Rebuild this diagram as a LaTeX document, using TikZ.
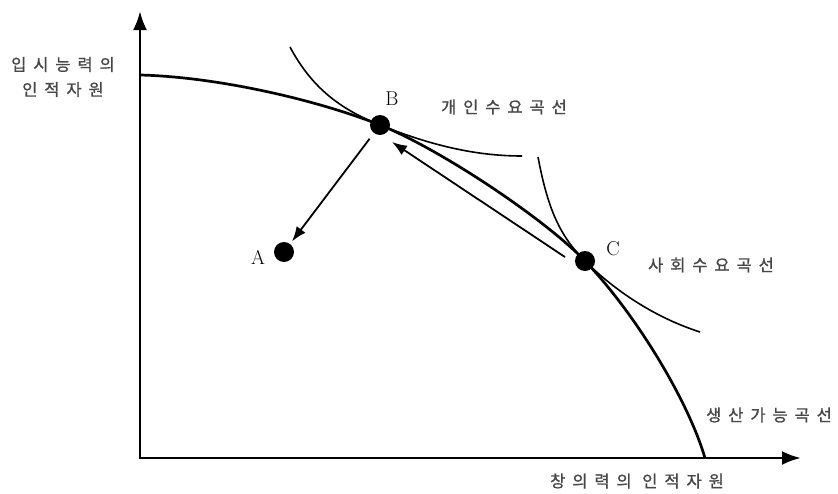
\documentclass[tikz,border=0pt]{standalone}
\usepackage{fontspec}
\newfontfamily\krfont[LetterSpace=42, FakeBold=1]{Noto Sans CJK KR}
\usetikzlibrary{arrows.meta}
\begin{document}
\begin{tikzpicture}[x=1pt, y=-1pt]

	% Styles for axes, curves, points and texts
	\tikzstyle{axisline} = [line width=2.8pt, {Latex[length=19pt, width=14pt]}-{Latex[length=19pt, width=14pt]}]
	\tikzstyle{ppfline} = [line width=2.7pt]
	\tikzstyle{demandline} = [line width=1.6pt]
	\tikzstyle{shiftarrow} = [line width=1.8pt, -{Latex[length=15pt, width=11pt]}]
	\tikzstyle{dotnode} = [circle, fill=black, inner sep=0pt, minimum size=20pt]
	\tikzstyle{letternode} = [font=\fontsize{20}{22}\selectfont, inner sep=0pt]
	\tikzstyle{krtext} = [font=\krfont\fontsize{16.5}{25}\selectfont, text=black!72, align=center, inner sep=0pt]

	\useasboundingbox (0,0) rectangle (838,493);

	% Axes
	\coordinate (ytop) at (140,11);
	\coordinate (origin) at (140,458);
	\coordinate (xend) at (801,458);
	\draw[axisline] (ytop) -- (origin) -- (xend);

	% Points
	\node[dotnode] (B) at (380,125) {};
	\node[dotnode] (A) at (284,252) {};
	\node[dotnode] (C) at (585,261) {};
	\node[letternode] (Blabel) at (392,99) {B};
	\node[letternode] (Alabel) at (258,257) {A};
	\node[letternode] (Clabel) at (613,249) {C};

	% Production possibility curve
	\draw[ppfline] (140,75) .. controls (220,77) and (320,101) .. (B.center)
		.. controls (440,149) and (545,219) .. (C.center)
		.. controls (635,313) and (688,400) .. (705,458);

	% Demand curves
	\draw[demandline] (290,47) .. controls (312,88) and (340,109) .. (B.center)
		.. controls (430,145) and (475,156) .. (522,156);
	\draw[demandline] (538,157) .. controls (548,210) and (560,236) .. (C.center)
		.. controls (610,286) and (650,316) .. (700,332);

	% Arrows
	\draw[shiftarrow, shorten <=7pt, shorten >=3pt] (B) -- (A);
	\draw[shiftarrow] ([shift={(-20,-4)}]C.center) -- ([shift={(12,17)}]B.center);

	% Texts
	\node[krtext] (ylabel) at (63,77) {입시능력의\\인적자원};
	\node[krtext] (xlabel) at (637,481) {창의력의 인적자원};
	\node[krtext] (indiv) at (504,107) {개인수요곡선};
	\node[krtext] (social) at (711,265) {사회수요곡선};
	\node[krtext] (ppf) at (769,415) {생산가능곡선};

\end{tikzpicture}
\end{document}
